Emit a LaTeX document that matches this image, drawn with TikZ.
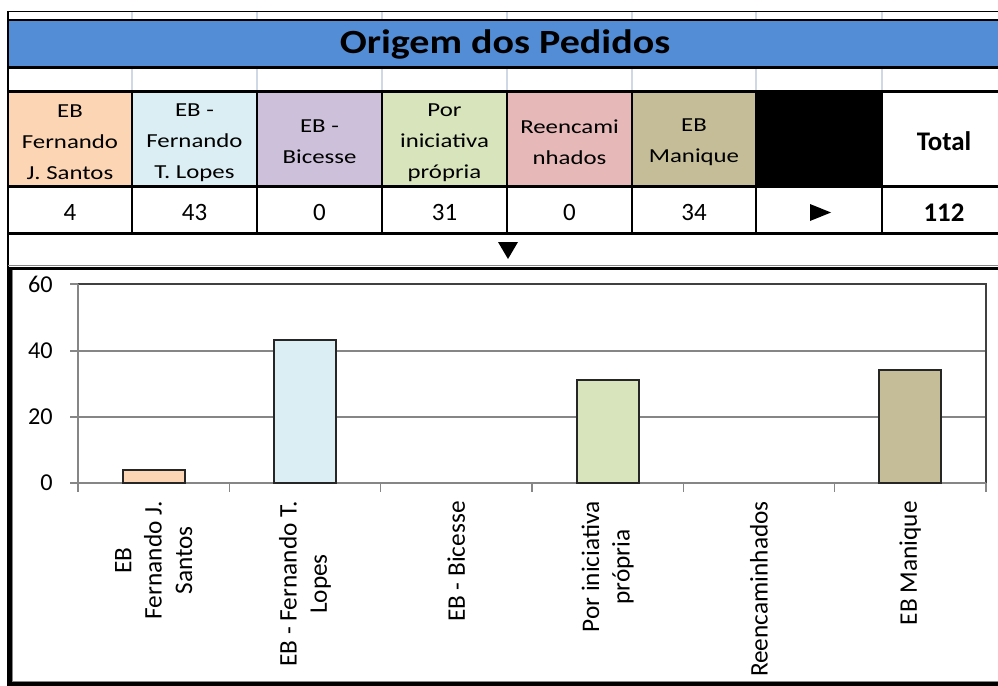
\documentclass[tikz,border=0pt]{standalone}
\usepackage{fontspec}
\setmainfont{Carlito}
\newfontfamily\cellfont{Carlito}[FakeStretch=1.25]
\newfontfamily\titlefont{Carlito}[FakeStretch=1.18]

\definecolor{bandblue}{HTML}{538DD5}
\definecolor{peach}{HTML}{FCD5B4}
\definecolor{iceblue}{HTML}{DAEEF3}
\definecolor{lavender}{HTML}{CCC0DA}
\definecolor{sage}{HTML}{D8E4BC}
\definecolor{rose}{HTML}{E6B8B7}
\definecolor{khaki}{HTML}{C4BD97}
\definecolor{sheetgrid}{HTML}{D0D7E5}
\definecolor{axisgray}{HTML}{868686}

\tikzset{
	headcell/.style={font=\cellfont\fontsize{11.3}{17.6}\selectfont, align=center, inner sep=0pt},
	valuecell/.style={font=\fontsize{14.2}{17}\selectfont, inner sep=0pt},
	axislabel/.style={font=\fontsize{13.8}{17.3}\selectfont, inner sep=0pt},
	catlabel/.style={font=\fontsize{14.4}{17.3}\selectfont, inner sep=0pt, rotate=90, anchor=east, align=center},
	cellrule/.style={draw=black, line width=1.2pt},
	sheetline/.style={draw=sheetgrid, line width=0.6pt},
	gridline/.style={draw=axisgray, line width=0.7pt},
	barbox/.style={draw=black!85, line width=1.1pt}
}

\begin{document}
\begin{tikzpicture}[x=0.02cm, y=-0.02cm]
	\useasboundingbox (0,0) rectangle (998,686);
	\clip (0,0) rectangle (998,686);
	% sheet rows above the title
	\draw[sheetline] (132,12) -- (132,20) (257,12) -- (257,20) (382,12) -- (382,20) (507,12) -- (507,20);
	\draw[sheetline] (632,12) -- (632,20) (756,12) -- (756,20) (882,12) -- (882,20);
	\draw[sheetline] (132,68) -- (132,91) (257,68) -- (257,91) (382,68) -- (382,91) (507,68) -- (507,91);
	\draw[sheetline] (632,68) -- (632,91) (756,68) -- (756,91) (882,68) -- (882,91);
	\draw[draw=black, line width=1pt] (8,11.5) -- (998,11.5);
	% title band
	\fill[bandblue] (8,20) rectangle (998,67.5);
	\draw[cellrule] (8,20) -- (998,20);
	\draw[cellrule] (8,67.5) -- (998,67.5);
	\node[font=\titlefont\bfseries\fontsize{19.3}{22}\selectfont, inner sep=0pt] (title) at (505,44) {Origem dos Pedidos};
	% header cells
	\fill[peach] (8,92) rectangle (132,186.5);
	\fill[iceblue] (132,92) rectangle (257,186.5);
	\fill[lavender] (257,92) rectangle (382,186.5);
	\fill[sage] (382,92) rectangle (507,186.5);
	\fill[rose] (507,92) rectangle (632,186.5);
	\fill[khaki] (632,92) rectangle (756,186.5);
	\fill[black] (756,92) rectangle (882,186.5);
	\node[headcell] (hdSantos) at (70,142.5) {EB\\Fernando\\J. Santos};
	\node[headcell] (hdLopes) at (194.5,142.5) {EB -\\Fernando\\T. Lopes};
	\node[headcell] (hdBicesse) at (319.5,142) {EB -\\Bicesse};
	\node[headcell] (hdPropria) at (444.5,142.5) {Por\\iniciativa\\própria};
	\node[headcell] (hdReenc) at (569.5,142) {Reencami\\nhados};
	\node[headcell] (hdManique) at (694,142) {EB\\Manique};
	\node[valuecell, font=\bfseries\fontsize{15.3}{18}\selectfont] (hdTotal) at (944,141) {Total};
	% values
	\node[valuecell] (vSantos) at (70,212.5) {4};
	\node[valuecell] (vLopes) at (194.5,212.5) {43};
	\node[valuecell] (vBicesse) at (319.5,212.5) {0};
	\node[valuecell] (vPropria) at (444.5,212.5) {31};
	\node[valuecell] (vReenc) at (569.5,212.5) {0};
	\node[valuecell] (vManique) at (694,212.5) {34};
	\node[valuecell, font=\bfseries\fontsize{15.3}{18}\selectfont] (vTotal) at (944,212.5) {112};
	\fill[black] (810,204) -- (831,212.5) -- (810,221) -- cycle;
	\fill[black] (498,242) -- (518,242) -- (508,259) -- cycle;
	% table rules
	\draw[cellrule] (8,91.5) -- (998,91.5);
	\draw[cellrule] (8,186.5) -- (998,186.5);
	\draw[cellrule] (8,233.5) -- (998,233.5);
	\draw[cellrule] (132,92) -- (132,233.5) (257,92) -- (257,233.5) (382,92) -- (382,233.5) (507,92) -- (507,233.5);
	\draw[cellrule] (632,92) -- (632,233.5) (756,92) -- (756,233.5) (882,92) -- (882,233.5);
	\draw[cellrule] (8,11) -- (8,267);
	\draw[draw=axisgray, line width=0.5pt] (8,265) -- (998,265);
	\draw[draw=black, line width=1.8pt] (8,268.5) -- (998,268.5);
	% chart frame
	\draw[draw=axisgray, line width=0.5pt] (12.5,270) -- (12.5,681) -- (998,681);
	\draw[draw=black, line width=2.6pt] (9.5,267) -- (9.5,686);
	\draw[draw=black, line width=2.8pt] (8,684) -- (998,684);
	% plot area
	\draw[gridline] (78,351) -- (986,351);
	\draw[gridline] (78,417) -- (986,417);
	\draw[draw=black!75, line width=0.8pt] (78,284) -- (986,284) -- (986,483);
	\draw[gridline] (70,284) -- (78,284) (70,351) -- (78,351) (70,417) -- (78,417) (70,483) -- (78,483);
	\draw[gridline] (78,284) -- (78,492);
	\draw[gridline] (78,483) -- (986,483);
	\draw[gridline] (229.3,483) -- (229.3,492) (380.7,483) -- (380.7,492) (532,483) -- (532,492);
	\draw[gridline] (683.3,483) -- (683.3,492) (834.7,483) -- (834.7,492) (986,483) -- (986,492);
	\node[axislabel, anchor=east] (y60) at (53,284) {60};
	\node[axislabel, anchor=east] (y40) at (53,351) {40};
	\node[axislabel, anchor=east] (y20) at (53,417) {20};
	\node[axislabel, anchor=east] (y0) at (53,483) {0};
	% bars
	\draw[barbox, fill=peach] (122.7,483) rectangle (184.7,469.7);
	\draw[barbox, fill=iceblue] (274,483) rectangle (336,340.4);
	\draw[barbox, fill=sage] (576.7,483) rectangle (638.7,380.2);
	\draw[barbox, fill=khaki] (879.3,483) rectangle (941.3,370.2);
	% category labels
	\node[catlabel] (cSantos) at (153.7,501) {EB\\Fernando J.\\Santos};
	\node[catlabel] (cLopes) at (305,501) {EB - Fernando T.\\Lopes};
	\node[catlabel] (cBicesse) at (456.3,501) {EB - Bicesse};
	\node[catlabel] (cPropria) at (607.7,501) {Por iniciativa\\própria};
	\node[catlabel] (cReenc) at (759,501) {Reencaminhados};
	\node[catlabel] (cManique) at (910.3,501) {EB Manique};
\end{tikzpicture}
\end{document}
